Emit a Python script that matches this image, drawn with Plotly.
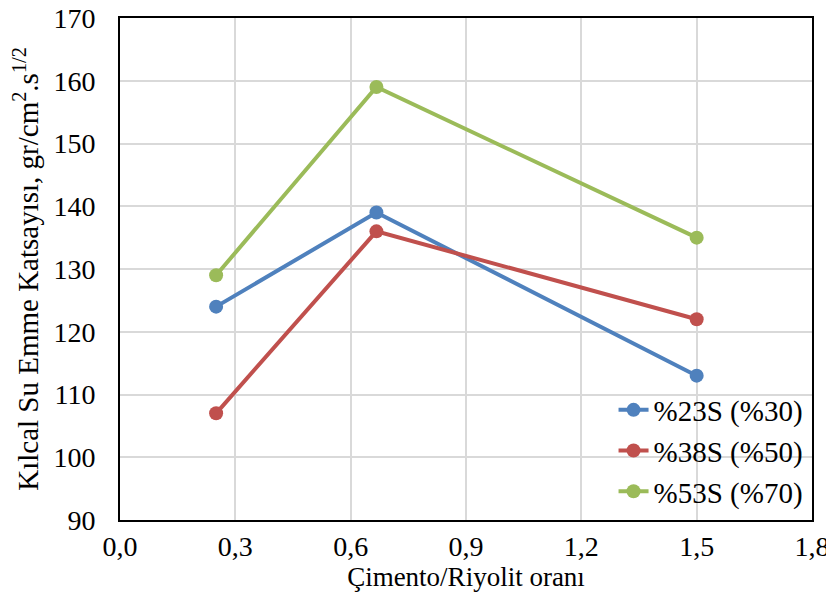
import plotly.graph_objects as go

oran = [0.25, 0.667, 1.5]
s23 = [124, 139, 113]
s38 = [107, 136, 122]
s53 = [129, 159, 135]
seriler = ["%23S (%30)", "%38S (%50)", "%53S (%70)"]
renkler = ["#4F81BD", "#C0504D", "#9BBB59"]

yazi = "Liberation Serif"

fig = go.Figure()
for ad, y, renk in zip(seriler, [s23, s38, s53], renkler):
    fig.add_trace(go.Scatter(x=oran, y=y, name=ad, mode="lines+markers",
                             line=dict(color=renk, width=4),
                             marker=dict(color=renk, size=14),
                             legendgroup=ad))

# sayfa 8px kenar boşluğu ile açılıyor, o yüzden 826x591
fig.update_layout(
    width=826, height=591,
    margin=dict(l=112, r=22, t=10, b=79, autoexpand=False),
    plot_bgcolor="white", paper_bgcolor="white",
    separators=",.",
    font=dict(family=yazi, size=28, color="black"),
    legend=dict(x=0.995, xanchor="right", y=0.005, yanchor="bottom",
                bgcolor="rgba(0,0,0,0)", font=dict(family=yazi, size=29, color="black"),
                tracegroupgap=2, traceorder="normal"),
)
fig.update_xaxes(range=[0, 1.8], dtick=0.3, tickformat=".1f",
                 tickfont=dict(family=yazi, size=28), ticklabeloverflow="allow",
                 showgrid=True, gridcolor="#d9d9d9", gridwidth=2,
                 showline=True, linecolor="black", linewidth=2, mirror=True,
                 zeroline=False, ticks="", automargin=False,
                 title=dict(text="Çimento/Riyolit oranı",
                            font=dict(family=yazi, size=27), standoff=2))
fig.update_yaxes(range=[90, 170], dtick=10,
                 tickfont=dict(family=yazi, size=28), ticklabeloverflow="allow",
                 ticklabelstandoff=17,
                 showgrid=True, gridcolor="#d9d9d9", gridwidth=2,
                 showline=True, linecolor="black", linewidth=2, mirror=True,
                 zeroline=False, ticks="", automargin=False,
                 title=dict(text="Kılcal Su Emme Katsayısı, gr/cm<sup>2</sup>.s<sup>1/2</sup>",
                            font=dict(family=yazi, size=29), standoff=9))

fig.write_html("out.html")
